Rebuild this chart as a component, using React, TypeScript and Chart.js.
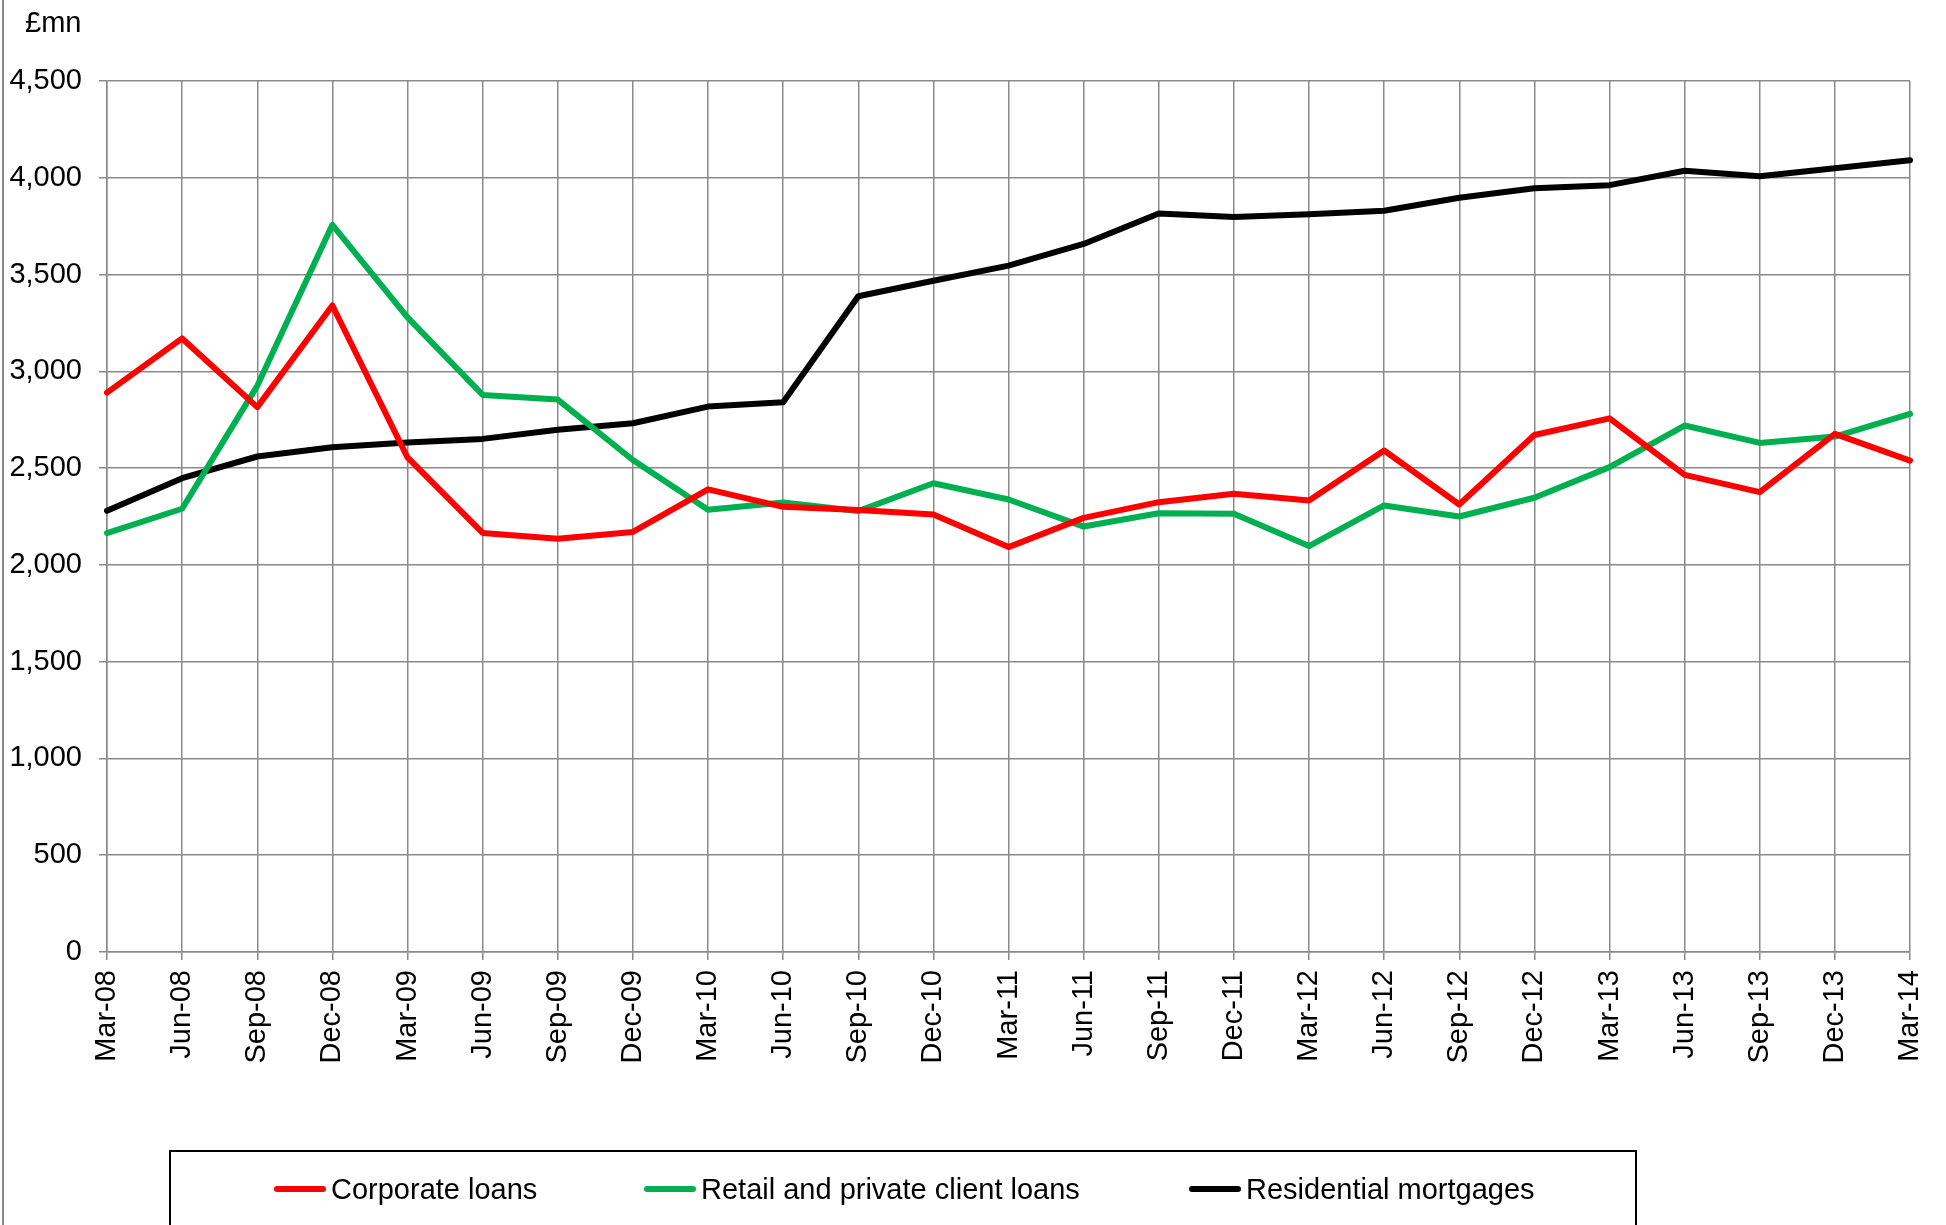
import React, { useEffect, useRef } from "react";
import { Chart, registerables } from "chart.js";

Chart.register(...registerables);

const categories = [
  "Mar-08", "Jun-08", "Sep-08", "Dec-08",
  "Mar-09", "Jun-09", "Sep-09", "Dec-09",
  "Mar-10", "Jun-10", "Sep-10", "Dec-10",
  "Mar-11", "Jun-11", "Sep-11", "Dec-11",
  "Mar-12", "Jun-12", "Sep-12", "Dec-12",
  "Mar-13", "Jun-13", "Sep-13", "Dec-13",
  "Mar-14",
];

const corporateLoans = [
  2890, 3170, 2815, 3340, 2555, 2165, 2135, 2170, 2390, 2300, 2283, 2260,
  2092, 2243, 2324, 2367, 2333, 2591, 2312, 2671, 2757, 2465, 2376, 2677, 2539,
];

const retailLoans = [
  2164, 2290, 2925, 3757, 3279, 2878, 2854, 2542, 2285, 2322, 2278, 2422,
  2338, 2198, 2267, 2264, 2097, 2307, 2250, 2347, 2505, 2720, 2630, 2663, 2780,
];

const residentialMortgages = [
  2280, 2448, 2560, 2608, 2632, 2651, 2698, 2732, 2818, 2840, 3388, 3468,
  3546, 3658, 3815, 3797, 3811, 3830, 3897, 3946, 3962, 4036, 4008, 4049, 4091,
];

const seriesNames = ["Corporate loans", "Retail and private client loans", "Residential mortgages"];
const seriesColors = ["#FF0000", "#00B050", "#000000"];
const yMin = 0;
const yMax = 4500;
const yStep = 500;
const unitLabel = "£mn";

const FONT = "'Liberation Sans', Arial, sans-serif";
const GRID = "#8a8a8a";

export default function App() {
  const canvasRef = useRef<HTMLCanvasElement | null>(null);

  useEffect(() => {
    document.body.style.margin = "0";
    const canvas = canvasRef.current;
    if (!canvas) return;

    const unitPlugin = {
      id: "unitLabel",
      afterDraw(chart: any) {
        const ctx = chart.ctx;
        ctx.save();
        ctx.font = `29px ${FONT}`;
        ctx.fillStyle = "#000";
        ctx.textBaseline = "middle";
        ctx.textAlign = "left";
        ctx.fillText(unitLabel, 25, 24);
        ctx.restore();
      },
    };

    const data = [corporateLoans, retailLoans, residentialMortgages];

    const chart = new Chart(canvas, {
      type: "line",
      data: {
        labels: categories,
        datasets: data.map((d, i) => ({
          label: seriesNames[i],
          data: d,
          borderColor: seriesColors[i],
          backgroundColor: seriesColors[i],
          borderWidth: 6,
          pointRadius: 0,
          tension: 0,
          borderJoinStyle: "round" as const,
          borderCapStyle: "round" as const,
          fill: false,
        })),
      },
      options: {
        responsive: false,
        animation: false,
        devicePixelRatio: 1,
        layout: { padding: { left: 0, right: 36, top: 81, bottom: 0 } },
        plugins: {
          legend: { display: false },
          tooltip: { enabled: false },
          title: { display: false },
        },
        scales: {
          x: {
            offset: false,
            grid: { color: GRID, lineWidth: 1.5, tickLength: 8, drawTicks: true },
            border: { color: GRID, width: 1.5 },
            ticks: {
              autoSkip: false,
              minRotation: 90,
              maxRotation: 90,
              padding: 10,
              color: "#000",
              font: { family: FONT, size: 29 },
            },
            afterFit(scale: any) {
              scale.height = 273;
              scale.paddingRight = 0;
              scale.paddingLeft = 0;
            },
          },
          y: {
            min: yMin,
            max: yMax,
            grid: { color: GRID, lineWidth: 1.5, tickLength: 8, drawTicks: true },
            border: { color: GRID, width: 1.5 },
            ticks: {
              stepSize: yStep,
              padding: 17,
              color: "#000",
              font: { family: FONT, size: 29 },
              callback: (v: any) => Number(v).toLocaleString("en-US"),
            },
            afterFit(scale: any) {
              scale.width = 107;
            },
          },
        },
      },
      plugins: [unitPlugin],
    });

    return () => chart.destroy();
  }, []);

  const legendItems = [
    { left: 274 - 169, name: seriesNames[0], color: seriesColors[0] },
    { left: 644 - 169, name: seriesNames[1], color: seriesColors[1] },
    { left: 1189 - 169, name: seriesNames[2], color: seriesColors[2] },
  ];

  return (
    <div style={{ position: "relative", width: 1946, height: 1225, overflow: "hidden", background: "#fff" }}>
      <canvas ref={canvasRef} width={1946} height={1225} style={{ position: "absolute", left: 0, top: 0 }} />
      <div style={{ position: "absolute", left: 2, top: 0, width: 2, height: 1225, background: "#8a8a8a" }} />
      <div
        style={{
          position: "absolute",
          left: 169,
          top: 1150,
          width: 1468,
          height: 120,
          border: "2px solid #000",
          boxSizing: "border-box",
        }}
      >
        {legendItems.map((it) => (
          <div
            key={it.name}
            style={{
              position: "absolute",
              left: it.left - 2,
              top: 18,
              height: 38,
              display: "flex",
              alignItems: "center",
              whiteSpace: "nowrap",
              fontFamily: FONT,
              fontSize: 29,
              color: "#000",
            }}
          >
            <span style={{ display: "inline-block", width: 52, height: 6, background: it.color, borderRadius: 3, marginRight: 5 }} />
            <span>{it.name}</span>
          </div>
        ))}
      </div>
    </div>
  );
}
